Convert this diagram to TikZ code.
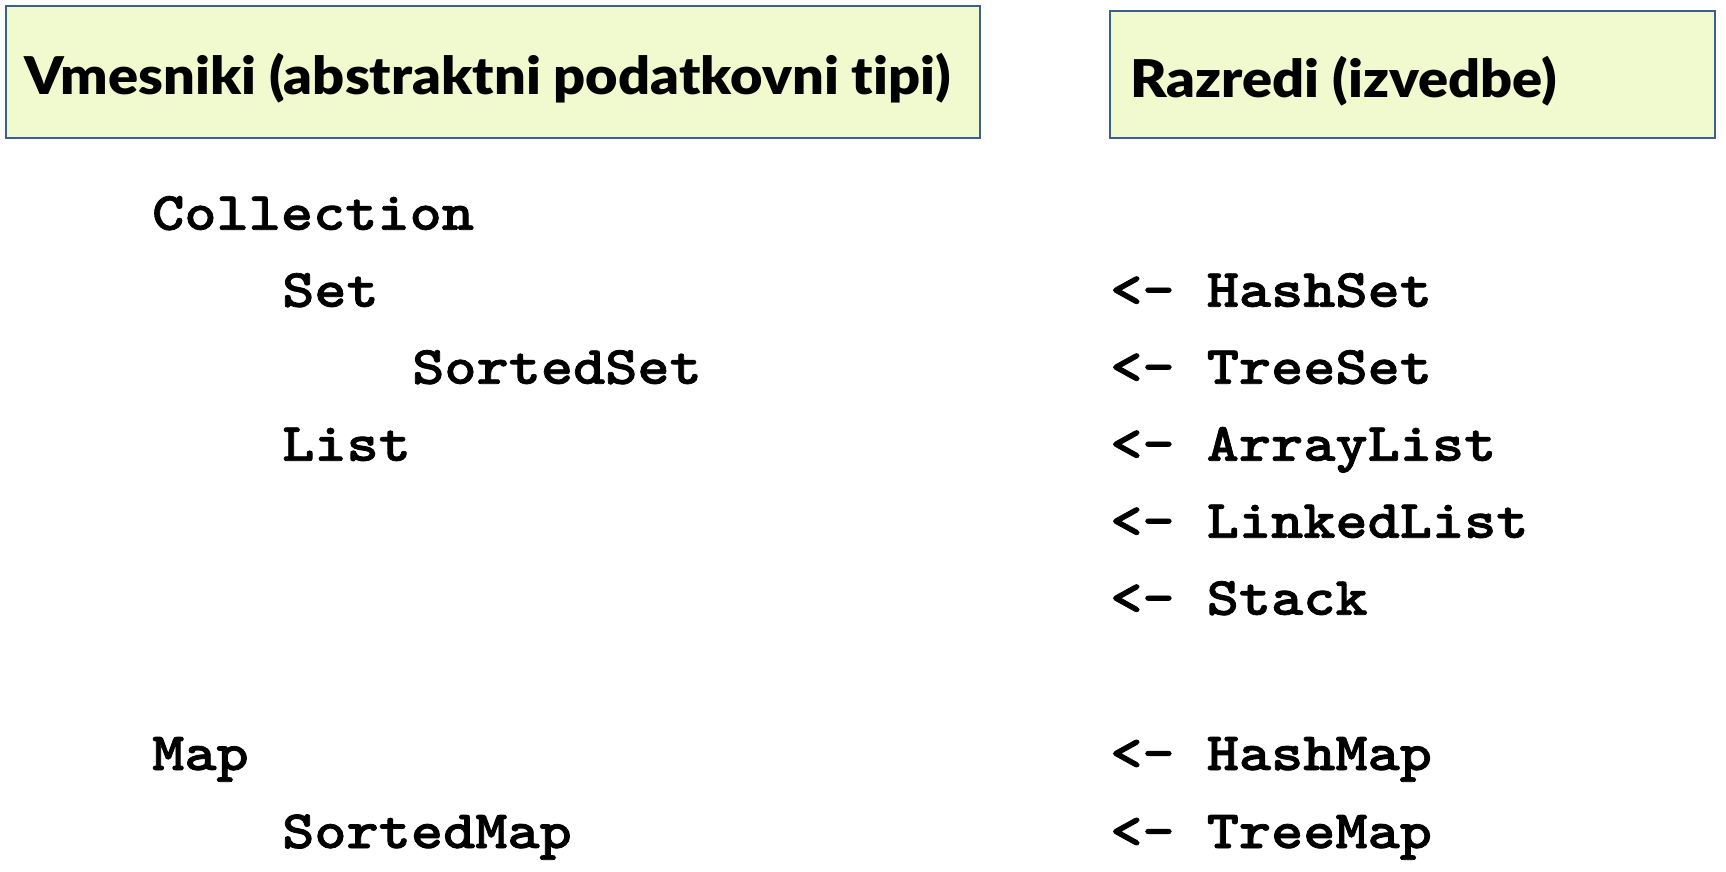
\documentclass[tikz,border=0pt]{standalone}
\usepackage{fontspec}
\newfontfamily\headfont[Ligatures=NoCommon,FakeStretch=1.075]{Lato Black}
\newfontfamily\codefont[FakeStretch=1.135,FakeBold=1.4]{lmmonolt10-bold.otf}
\definecolor{headfill}{RGB}{240,250,206}
\definecolor{headline}{RGB}{62,96,140}
\begin{document}
\begin{tikzpicture}[x=1pt,y=-1pt,
  headbox/.style={draw=headline,fill=headfill,line width=1.8pt},
  code/.style={anchor=base west,inner sep=0pt,font=\codefont\fontsize{54}{60}\selectfont},
  headtext/.style={anchor=base west,inner sep=0pt,font=\headfont\fontsize{52}{60}\selectfont}]
\useasboundingbox (0,0) rectangle (1726,872);
\fill[white] (0,0) rectangle (1726,872);
% header boxes
\draw[headbox] (6,6) rectangle (980,138);
\draw[headbox] (1110,11) rectangle (1715,138);
\node[headtext] (hl) at (24,95) {Vmesniki (abstraktni podatkovni tipi)};
\node[headtext] (hr) at (1130,98) {Razredi (izvedbe)};
% interfaces
\node[code] (coll) at (152,229.7) {Collection};
\node[code] (set) at (282,306.7) {Set};
\node[code] (sset) at (412,383.7) {SortedSet};
\node[code] (list) at (282,460.7) {List};
\node[code] (map) at (152,770) {Map};
\node[code] (smap) at (282,848) {SortedMap};
% implementations
\node[code] (hset) at (1110,306.7) {<- HashSet};
\node[code] (tset) at (1110,383.7) {<- TreeSet};
\node[code] (alist) at (1110,460.7) {<- ArrayList};
\node[code] (llist) at (1110,537.7) {<- LinkedList};
\node[code] (stack) at (1110,614.7) {<- Stack};
\node[code] (hmap) at (1110,770) {<- HashMap};
\node[code] (tmap) at (1110,848) {<- TreeMap};
\end{tikzpicture}
\end{document}
